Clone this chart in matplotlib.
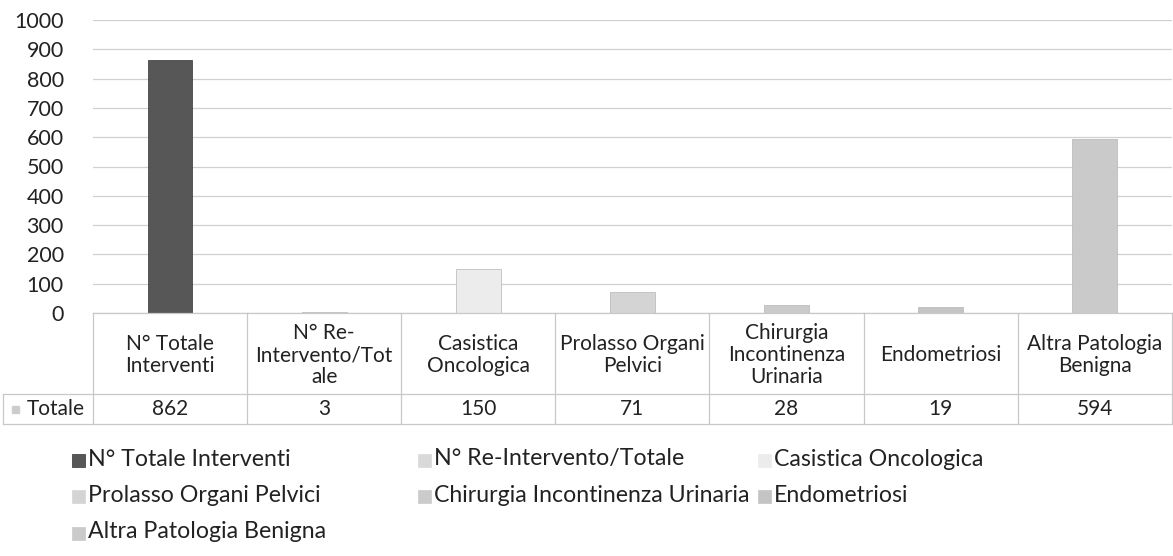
import matplotlib.pyplot as plt
from matplotlib.patches import Rectangle

plt.rcParams['font.family'] = ['Lato', 'DejaVu Sans']

# data
categorie = ["N° Totale Interventi", "N° Re-Intervento/Totale", "Casistica Oncologica",
             "Prolasso Organi Pelvici", "Chirurgia Incontinenza Urinaria", "Endometriosi",
             "Altra Patologia Benigna"]
etichette_tabella = ["N° Totale\nInterventi", "N° Re-\nIntervento/Tot\nale", "Casistica\nOncologica",
                     "Prolasso Organi\nPelvici", "Chirurgia\nIncontinenza\nUrinaria", "Endometriosi",
                     "Altra Patologia\nBenigna"]
totale = [862, 3, 150, 71, 28, 19, 594]
colori = ["#575757", "#d9d9d9", "#ececec", "#d4d4d4", "#cbcbcb", "#c4c4c4", "#cacaca"]

W, H = 1173, 556
fig = plt.figure(figsize=(W / 100, H / 100), dpi=100)

left = 93 / W
ax = fig.add_axes([left, 1 - 313 / H, 1 - left - 0.001, (313 - 20) / H])
x = list(range(len(totale)))
barre = ax.bar(x, totale, width=0.29, color=colori, edgecolor="#b5b5b5", linewidth=0.5, zorder=3)
barre[0].set_edgecolor("#333333")
ax.set_xlim(-0.5, len(totale) - 0.5)
ax.set_ylim(0, 1000)
ax.set_yticks(range(0, 1001, 100))
ax.tick_params(axis="y", length=0, pad=21, labelsize=15.5, labelcolor="#222222")
ax.set_xticks([])
for s in ax.spines.values():
    s.set_visible(False)
ax.grid(axis="y", color="#d0d0d0", linewidth=0.9, zorder=0)

# tabella dati
tab = fig.add_axes([left, 1 - 424 / H, 1 - left - 0.001, (424 - 313) / H])
tab.set_xlim(-0.5, len(totale) - 0.5)
tab.set_ylim(424, 313)
tab.axis("off")
lc = "#c8c8c8"
for yy in [313, 394, 423.5]:
    tab.plot([-0.5, len(totale) - 0.5], [yy, yy], color=lc, lw=0.9, clip_on=False)
for i in range(len(totale) + 1):
    tab.plot([i - 0.5, i - 0.5], [313, 424], color=lc, lw=0.9, clip_on=False)
for i, (lab, v) in enumerate(zip(etichette_tabella, totale)):
    tab.text(i, 355, lab, ha="center", va="center", fontsize=15, linespacing=1.15, color="#222222")
    tab.text(i, 409, str(v), ha="center", va="center", fontsize=15, color="#222222")

# etichetta riga
fig.add_artist(plt.Line2D([3 / W, left], [1 - 394 / H, 1 - 394 / H], color=lc, lw=0.9))
fig.add_artist(plt.Line2D([3 / W, left], [1 - 423.5 / H, 1 - 423.5 / H], color=lc, lw=0.9))
fig.add_artist(plt.Line2D([3 / W, 3 / W], [1 - 394 / H, 1 - 423.5 / H], color=lc, lw=0.9))
fig.add_artist(Rectangle((12 / W, 1 - 413 / H), 7 / W, 7 / H, color="#cccccc"))
fig.text(27 / W, 1 - 409 / H, "Totale", ha="left", va="center", fontsize=15, color="#222222")

# legenda
col_x = [72, 418, 758]
row_y = [459, 495, 532]
for k, (nome, c) in enumerate(zip(categorie, colori)):
    cx = col_x[k % 3]
    cy = row_y[k // 3]
    fig.add_artist(Rectangle((cx / W, 1 - (cy + 8) / H), 13 / W, 13 / H, color=c,
                             ec="#333333" if k == 0 else c, lw=0.5))
    fig.text((cx + 16) / W, 1 - cy / H, nome, ha="left", va="center", fontsize=16.7, color="#222222")

fig.savefig("out.png", dpi=100)
